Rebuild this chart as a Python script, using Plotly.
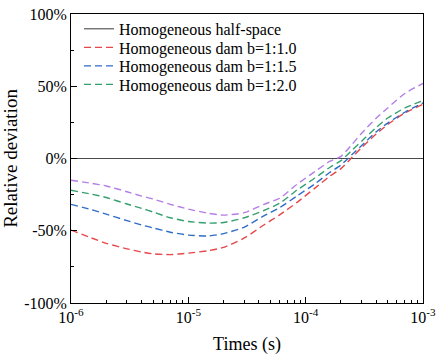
import plotly.graph_objects as go

times = [1e-6, 1.5e-6, 2e-6, 3e-6, 4e-6, 5e-6, 7e-6, 1e-5, 1.5e-5, 2e-5, 3e-5, 4.4e-5,
         6e-5, 8.4e-5, 1.2e-4, 1.6e-4, 2e-4, 2.5e-4, 3e-4, 4e-4, 5e-4, 7e-4, 1e-3]
halfspace = [0.0] * len(times)
dam_b10 = [-49.5, -55, -58.7, -62.5, -64.7, -66, -66.5, -65.5, -63.7, -61.5, -55, -46,
           -39, -30.5, -20.5, -12.3, -7, 1, 7.5, 17, 23.5, 31.5, 37.5]
dam_b15 = [-31.7, -35.5, -38.5, -43, -46, -48, -51, -53, -53.6, -52, -47.5, -39.7,
           -34, -26, -17.5, -9.7, -4.5, 3, 9, 18.5, 24.5, 32, 38.5]
dam_b20 = [-22, -24.7, -27, -31.5, -34.5, -37, -41, -43.6, -44.7, -44.3, -41, -36,
           -31, -22, -13.5, -6.2, -1.5, 6, 12, 21.5, 28, 35, 40]
dam_extra = [-15, -17.2, -19, -23, -26, -28, -31.7, -35, -38, -39.2, -37.5, -31.7,
             -27.5, -18, -9, -2, 1.5, 10, 17.5, 28, 35, 45, 52]

y_ticks = [-100, -50, 0, 50, 100]
y_labels = ["-100%", "-50%", "0%", "50%", "100%"]
x_ticks = [1e-6, 1e-5, 1e-4, 1e-3]
x_labels = ["10<sup>-6</sup>", "10<sup>-5</sup>", "10<sup>-4</sup>", "10<sup>-3</sup>"]

FONT = "Liberation Serif, Times New Roman, serif"
dash = "7px,4px"
W, H = 436, 357
ML, MR, MT, MB = 71, 13, 12, 54
plot_h = H - MT - MB

fig = go.Figure()
fig.add_trace(go.Scatter(x=times, y=halfspace, mode="lines", name="Homogeneous half-space",
                         legend="legend", line=dict(color="#4a4a4a", width=1.1)))
fig.add_trace(go.Scatter(x=times, y=dam_b10, mode="lines", name="Homogeneous dam b=1:1.0",
                         legend="legend2",
                         line=dict(color="#e5474b", width=1.4, dash=dash, shape="spline", smoothing=0.6)))
fig.add_trace(go.Scatter(x=times, y=dam_b15, mode="lines", name="Homogeneous dam b=1:1.5",
                         legend="legend3",
                         line=dict(color="#2f6cc8", width=1.4, dash=dash, shape="spline", smoothing=0.6)))
fig.add_trace(go.Scatter(x=times, y=dam_b20, mode="lines", name="Homogeneous dam b=1:2.0",
                         legend="legend4",
                         line=dict(color="#35a06e", width=1.4, dash=dash, shape="spline", smoothing=0.6)))
fig.add_trace(go.Scatter(x=times, y=dam_extra, mode="lines", showlegend=False,
                         line=dict(color="#b47ee6", width=1.4, dash=dash, shape="spline", smoothing=0.6)))

row_centers = [27, 45.7, 64.3, 83]   # screen y of legend rows
def leg(yc):
    return dict(x=8 / (W - ML - MR), y=(H - MB - yc) / plot_h, xanchor="left", yanchor="middle",
                bgcolor="rgba(0,0,0,0)", font=dict(size=16, family=FONT), itemwidth=30)

fig.update_layout(
    width=W, height=H,
    margin=dict(l=ML, r=MR, t=MT, b=MB),
    paper_bgcolor="white", plot_bgcolor="white",
    font=dict(family=FONT, size=16, color="black"),
    showlegend=True,
    legend=leg(row_centers[0]),
    legend2=leg(row_centers[1]),
    legend3=leg(row_centers[2]),
    legend4=leg(row_centers[3]),
)
fig.update_xaxes(
    type="log", range=[-6, -3], automargin=False,
    tickmode="array", tickvals=x_ticks, ticktext=x_labels,
    ticks="inside", ticklen=6, tickcolor="black",
    minor=dict(ticks="inside", ticklen=3, tickcolor="black", dtick="D1", showgrid=False),
    showline=True, linecolor="black", linewidth=1, mirror=True,
    showgrid=False, zeroline=False, ticklabeloverflow="allow",
    title=dict(text="Times (s)", font=dict(size=18, family=FONT), standoff=12),
    tickfont=dict(size=16, family=FONT),
)
fig.update_yaxes(
    range=[-100, 100], automargin=False,
    tickmode="array", tickvals=y_ticks, ticktext=y_labels,
    ticks="inside", ticklen=6, tickcolor="black",
    minor=dict(ticks="inside", ticklen=3, tickcolor="black", dtick=25, showgrid=False),
    showline=True, linecolor="black", linewidth=1, mirror=True,
    showgrid=False, zeroline=False, ticklabeloverflow="allow",
    title=dict(text="Relative deviation", font=dict(size=19, family=FONT), standoff=11),
    tickfont=dict(size=16, family=FONT),
)

fig.write_html("out.html", config={"displayModeBar": False},
               post_script="document.body.style.margin='0';")
